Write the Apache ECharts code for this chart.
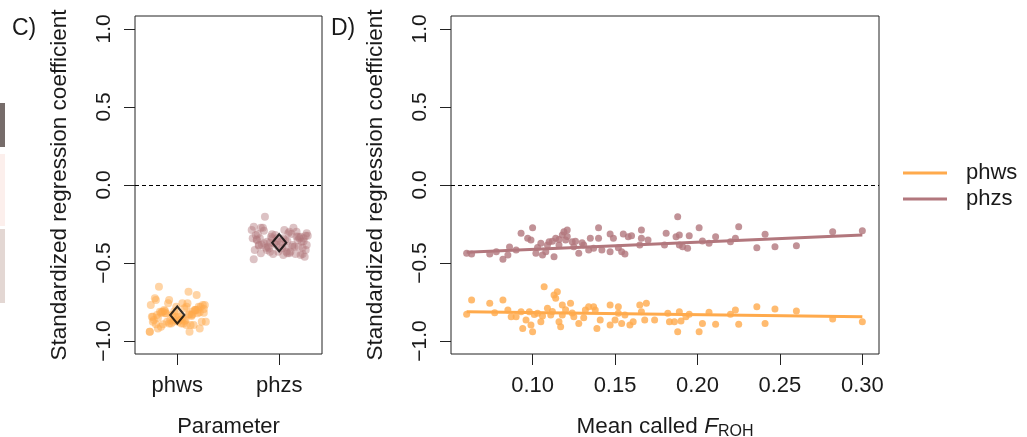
<!DOCTYPE html>
<html>
<head>
<meta charset="utf-8">
<script src="https://cdn.jsdelivr.net/npm/echarts@6/dist/echarts.min.js"></script>
<style>
  html, body { margin: 0; padding: 0; background: #fff; }
  #chart { width: 1027px; height: 437px; }
</style>
</head>
<body>
<div id="chart"></div>
<script>
// panel C categories + y ticks
const params = ['phws', 'phzs']
const coefTicks = [-1, -0.5, 0, 0.5, 1]
const frohTicks = [0.10, 0.15, 0.20, 0.25, 0.30]

// panel D: mean called F_ROH vs standardized coefficient
const phwsX = [0.060,0.063,0.074,0.077,0.082,0.085,0.087,0.090,0.093,0.094,0.096,0.099,0.100,0.098,0.103,0.105,0.107,0.109,0.111,0.113,
  0.114,0.115,0.116,0.117,0.118,0.123,0.118,0.125,0.128,0.132,0.134,0.137,0.138,0.139,0.141,0.147,0.147,0.150,0.152,0.152,
  0.154,0.156,0.159,0.161,0.165,0.166,0.169,0.168,0.174,0.182,0.183,0.186,0.189,0.190,0.193,0.195,0.188,0.201,0.203,0.207,
  0.211,0.220,0.223,0.225,0.236,0.241,0.247,0.260,0.282,0.300,0.106,0.112,0.120,0.124,0.101,0.131]
const phwsY = [-0.829,-0.737,-0.758,-0.818,-0.737,-0.801,-0.844,-0.844,-0.812,-0.919,-0.865,-0.897,-0.940,-0.812,-0.822,-0.876,-0.652,-0.790,-0.833,-0.705,
  -0.726,-0.684,-0.876,-0.908,-0.769,-0.758,-0.833,-0.844,-0.887,-0.801,-0.780,-0.780,-0.801,-0.919,-0.865,-0.769,-0.897,-0.865,-0.780,-0.822,
  -0.887,-0.833,-0.897,-0.876,-0.769,-0.812,-0.758,-0.865,-0.865,-0.822,-0.876,-0.876,-0.812,-0.872,-0.844,-0.829,-0.940,-0.940,-0.887,-0.816,
  -0.893,-0.829,-0.801,-0.893,-0.780,-0.887,-0.795,-0.808,-0.859,-0.876,-0.840,-0.810,-0.800,-0.820,-0.830,-0.850]

const phzsX = [0.060,0.063,0.074,0.078,0.082,0.085,0.086,0.090,0.093,0.097,0.100,0.099,0.102,0.105,0.106,0.108,0.110,0.113,0.114,0.116,
  0.118,0.119,0.121,0.120,0.124,0.125,0.128,0.131,0.134,0.135,0.137,0.140,0.140,0.142,0.147,0.147,0.149,0.152,0.154,0.155,
  0.156,0.158,0.160,0.165,0.166,0.166,0.170,0.180,0.181,0.188,0.187,0.189,0.189,0.191,0.194,0.195,0.201,0.203,0.207,0.211,
  0.220,0.223,0.225,0.236,0.241,0.247,0.260,0.282,0.300,0.109,0.112,0.121,0.116,0.103,0.126,0.130]
const phzsY = [-0.438,-0.442,-0.442,-0.427,-0.476,-0.449,-0.397,-0.417,-0.310,-0.342,-0.274,-0.353,-0.438,-0.374,-0.449,-0.427,-0.363,-0.460,-0.342,-0.385,
  -0.320,-0.299,-0.288,-0.353,-0.363,-0.395,-0.438,-0.385,-0.417,-0.342,-0.406,-0.274,-0.342,-0.417,-0.314,-0.427,-0.342,-0.402,-0.427,-0.314,
  -0.442,-0.331,-0.325,-0.385,-0.288,-0.342,-0.353,-0.385,-0.310,-0.203,-0.331,-0.320,-0.385,-0.395,-0.406,-0.325,-0.274,-0.359,-0.374,-0.331,
  -0.363,-0.342,-0.267,-0.402,-0.316,-0.395,-0.389,-0.299,-0.293,-0.385,-0.360,-0.330,-0.350,-0.400,-0.360,-0.370]

// fitted lines (endpoints)
const fitX = [0.06, 0.30]
const phwsFit = [-0.812, -0.844]
const phzsFit = [-0.431, -0.320]

// panel C: horizontal jitter around category and the means
const jitterC1 = [0.12,-0.21,0.05,0.26,-0.08,0.17,-0.25,0.02,-0.14,0.22,-0.03,0.09,-0.27,0.15,-0.11,0.24,-0.18,0.07,-0.05,0.19,
  -0.22,0.11,0.01,-0.16,0.27,-0.09,0.14,-0.24,0.06,-0.13,0.21,-0.01,0.18,-0.19,0.08,-0.26,0.13,-0.07,0.23,-0.12,
  0.04,-0.2,0.16,-0.04,0.25,-0.15,0.1,-0.23,0.03,0.2,-0.1,0.28,-0.17,0.07,-0.02,0.15,-0.27,0.12,-0.06,0.22,
  -0.14,0.01,0.18,-0.21,0.09,-0.08,0.26,-0.12,0.05,-0.24,0.14,-0.03,0.2,-0.16,0.11,-0.19,0.24,-0.09,0.02,0.17]
const jitterC2 = [-0.18,0.23,-0.06,0.11,-0.25,0.04,0.19,-0.12,0.27,-0.02,0.14,-0.22,0.08,-0.15,0.21,-0.09,0.02,0.25,-0.19,0.13,
  -0.04,0.17,-0.27,0.06,0.22,-0.11,0.1,-0.2,0.26,-0.07,0.03,-0.16,0.2,-0.24,0.12,-0.01,0.24,-0.13,0.07,-0.21,
  0.16,-0.08,0.28,-0.17,0.05,-0.26,0.18,-0.03,0.09,-0.14,0.21,-0.23,0.01,0.15,-0.1,0.26,-0.18,0.08,-0.05,0.19,
  -0.12,0.04,-0.25,0.23,-0.07,0.13,-0.2,0.1,-0.15,0.27,-0.02,0.17,-0.22,0.06,0.24,-0.09,0.12,-0.27,0.2,-0.04]
const meanCoef = [-0.833, -0.370]

const ORANGE = '#FFAA4C'
const MAUVE = '#B2777D'
const INK = '#1a1a1a'
const FONT = '"Liberation Sans", Arial, Helvetica, sans-serif'

const pairs = (xs, ys) => xs.map((x, i) => [x, ys[i]])
const jittered = (center, ys, jit) => ys.map((y, i) => [center + jit[i], y])

const zeroLine = {
  silent: true,
  symbol: 'none',
  label: {show: false},
  lineStyle: {color: '#000', type: [4, 3], width: 1},
  data: [{yAxis: 0}]
}

const yAxisBase = gi => ({
  gridIndex: gi,
  type: 'value',
  min: -1.083,
  max: 1.083,
  name: 'Standardized regression coefficient',
  nameLocation: 'middle',
  nameGap: 64,
  nameTextStyle: {fontSize: 22.5, color: INK, fontFamily: FONT},
  axisLine: {show: false, onZero: false},
  splitLine: {show: false},
  axisTick: {show: true, length: 11, customValues: coefTicks, lineStyle: {color: '#222'}},
  axisLabel: {
    customValues: coefTicks, rotate: 90, margin: 20,
    fontSize: 21, color: INK, fontFamily: FONT,
    formatter: v => (v < 0 ? '\u2212' : '') + Math.abs(v).toFixed(1)
  }
})

const chart = echarts.init(document.getElementById('chart'), null, {renderer: 'canvas'})

chart.setOption({
  animation: false,
  backgroundColor: '#fff',
  textStyle: {fontFamily: FONT},
  grid: [
    {left: 135, top: 16, width: 187, height: 338, outerBoundsMode: 'none', containLabel: false,
      show: true, borderColor: '#222', borderWidth: 1, backgroundColor: 'transparent'},
    {left: 451, top: 16, width: 428, height: 338, outerBoundsMode: 'none', containLabel: false,
      show: true, borderColor: '#222', borderWidth: 1, backgroundColor: 'transparent'}
  ],
  xAxis: [
    {
      gridIndex: 0, type: 'value', min: 0.585, max: 2.42,
      name: 'Parameter', nameLocation: 'middle', nameGap: 62,
      nameTextStyle: {fontSize: 22, color: INK},
      axisLine: {show: false, onZero: false}, splitLine: {show: false},
      axisTick: {show: true, length: 11, customValues: [1, 2], lineStyle: {color: '#222'}},
      axisLabel: {customValues: [1, 2], margin: 21, fontSize: 22, color: INK, formatter: v => params[Math.round(v) - 1]}
    },
    {
      gridIndex: 1, type: 'value', min: 0.0505, max: 0.3101,
      name: 'Mean called {i|F}{s|ROH}', nameLocation: 'middle', nameGap: 60,
      nameTextStyle: {
        fontSize: 22.5, color: INK,
        rich: {i: {fontSize: 22.5, fontStyle: 'italic', color: INK}, s: {fontSize: 16, color: INK, padding: [10, 0, 0, 0]}}
      },
      axisLine: {show: false, onZero: false}, splitLine: {show: false},
      axisTick: {show: true, length: 11, customValues: frohTicks, lineStyle: {color: '#222'}},
      axisLabel: {customValues: frohTicks, margin: 21, fontSize: 22, color: INK, formatter: v => v.toFixed(2)}
    }
  ],
  yAxis: [yAxisBase(0), yAxisBase(1)],
  legend: {
    data: [{name: 'phws'}, {name: 'phzs'}],
    orient: 'vertical',
    left: 898, top: 157,
    icon: 'rect', itemWidth: 44, itemHeight: 3, itemGap: 4,
    textStyle: {fontSize: 22, color: INK, padding: [0, 0, 0, 14]}
  },
  graphic: [
    {type: 'rect', left: 0, top: 103, shape: {width: 5, height: 44}, style: {fill: '#766c6a'}},
    {type: 'rect', left: 0, top: 154, shape: {width: 5, height: 72}, style: {fill: '#fcefec'}},
    {type: 'rect', left: 0, top: 229, shape: {width: 5, height: 74}, style: {fill: '#e3d7d3'}},
    {type: 'text', left: 12, top: 17, style: {text: 'C)', fontSize: 23, fill: INK, fontFamily: FONT}},
    {type: 'text', left: 331, top: 17, style: {text: 'D)', fontSize: 23, fill: INK, fontFamily: FONT}}
  ],
  series: [
    // panel C
    {
      name: 'phws C', type: 'scatter', xAxisIndex: 0, yAxisIndex: 0,
      symbolSize: 8, itemStyle: {color: ORANGE, opacity: 0.5},
      data: jittered(1, phwsY, jitterC1),
      markLine: zeroLine
    },
    {
      name: 'phzs C', type: 'scatter', xAxisIndex: 0, yAxisIndex: 0,
      symbolSize: 8, itemStyle: {color: MAUVE, opacity: 0.45},
      data: jittered(2, phzsY, jitterC2)
    },
    {
      name: 'mean C', type: 'scatter', xAxisIndex: 0, yAxisIndex: 0,
      symbol: 'diamond', symbolSize: [14, 17], z: 5,
      itemStyle: {color: 'transparent', borderColor: '#000', borderWidth: 2.2},
      data: meanCoef.map((y, i) => [i + 1, y])
    },
    // panel D
    {
      name: 'phws D', type: 'scatter', xAxisIndex: 1, yAxisIndex: 1,
      symbolSize: 7, itemStyle: {color: ORANGE, opacity: 0.8},
      data: pairs(phwsX, phwsY),
      markLine: zeroLine
    },
    {
      name: 'phzs D', type: 'scatter', xAxisIndex: 1, yAxisIndex: 1,
      symbolSize: 7, itemStyle: {color: MAUVE, opacity: 0.8},
      data: pairs(phzsX, phzsY)
    },
    {
      name: 'phws', type: 'line', xAxisIndex: 1, yAxisIndex: 1,
      showSymbol: false, symbol: 'none', z: 4,
      itemStyle: {color: ORANGE}, lineStyle: {color: ORANGE, width: 3},
      data: pairs(fitX, phwsFit)
    },
    {
      name: 'phzs', type: 'line', xAxisIndex: 1, yAxisIndex: 1,
      showSymbol: false, symbol: 'none', z: 4,
      itemStyle: {color: MAUVE}, lineStyle: {color: MAUVE, width: 3},
      data: pairs(fitX, phzsFit)
    }
  ]
})

window.addEventListener('resize', () => chart.resize())
</script>
</body>
</html>
